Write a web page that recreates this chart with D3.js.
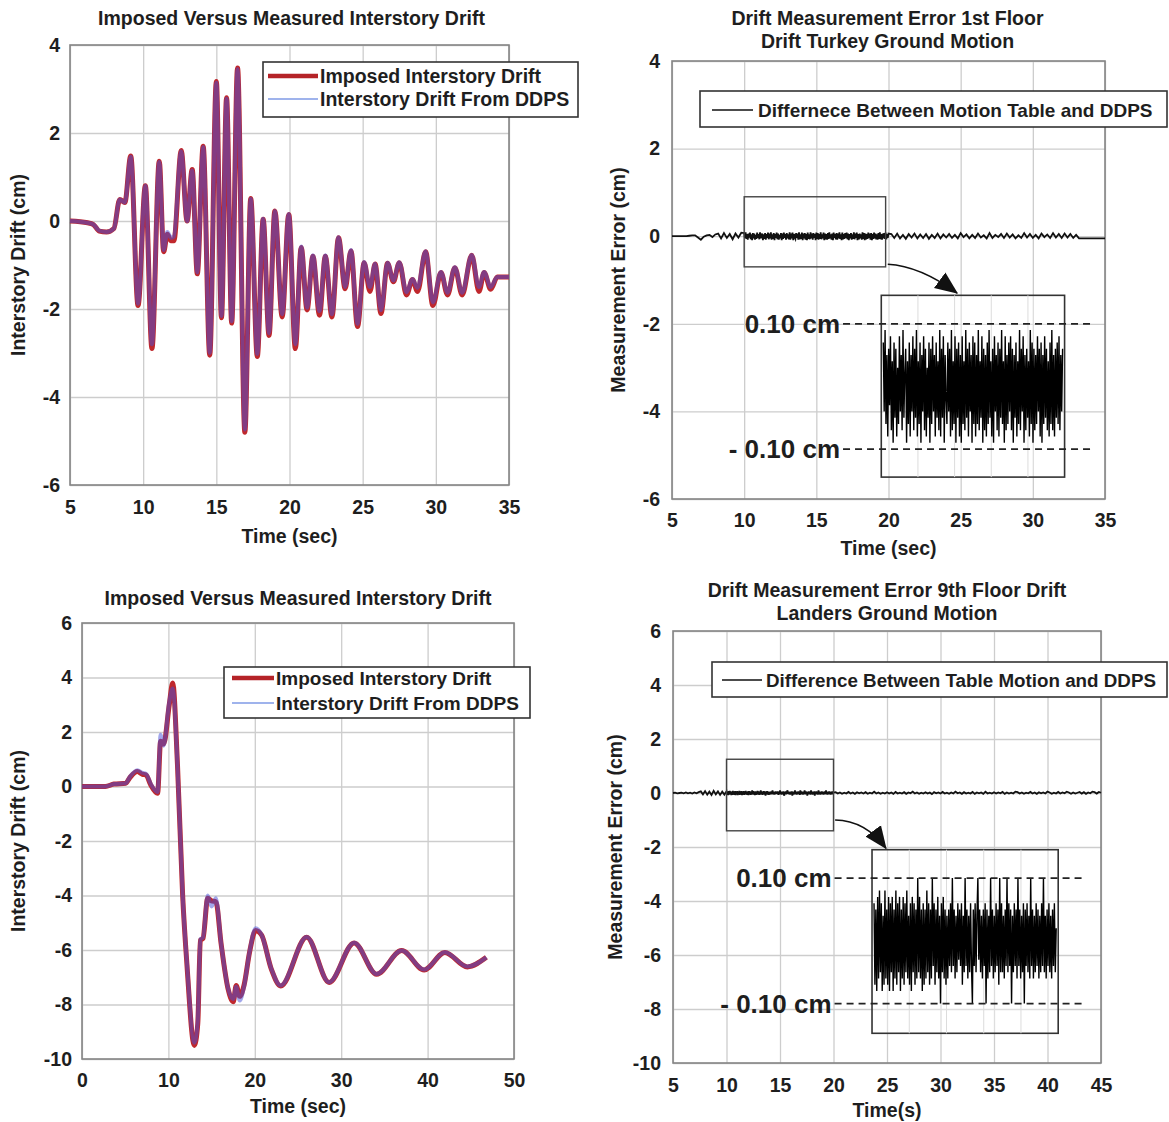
<!DOCTYPE html>
<html>
<head>
<meta charset="utf-8">
<script src="https://cdn.jsdelivr.net/npm/d3@7"></script>
<style>
  body { margin: 0; background: #fff; }
  svg text { font-family: "Liberation Sans", Arial, sans-serif; font-weight: bold; fill: #1e1e1e; }
</style>
</head>
<body>
<script>
// ---------- Turkey record: imposed vs. DDPS interstory drift (cm) ----------
const turkeyTime = [5, 6.2, 6.6, 7.0, 7.5, 8.0, 8.4, 8.75, 9.15, 9.65, 10.15, 10.6, 11.1, 11.4, 11.65, 11.9, 12.1,
  12.6, 13.0, 13.35, 13.7, 14.1, 14.55, 15.0, 15.35, 15.7, 16.05, 16.45, 16.95, 17.35, 17.8, 18.2, 18.6, 19.0, 19.5,
  19.95, 20.4, 20.8, 21.2, 21.6, 22.05, 22.45, 22.9, 23.35, 23.8, 24.2, 24.65, 25.1, 25.5, 25.85, 26.25, 26.7, 27.1,
  27.5, 28.0, 28.4, 28.75, 29.3, 29.8, 30.35, 30.8, 31.3, 31.8, 32.45, 32.95, 33.3, 33.75, 34.2, 35];
const turkeyImposed = [0, -0.04, -0.08, -0.23, -0.25, -0.17, 0.49, 0.42, 1.48, -1.92, 0.8, -2.9, 1.36, -0.7, -0.3,
  -0.45, -0.45, 1.6, 0.0, 1.17, -1.2, 1.7, -3.05, 3.17, -2.2, 2.8, -2.32, 3.48, -4.8, 0.51, -3.08, 0.04, -2.6, 0.23,
  -2.18, 0.15, -2.9, -0.6, -2.02, -0.8, -2.14, -0.8, -2.18, -0.38, -1.54, -0.68, -2.4, -0.95, -1.6, -0.98, -2.1, -0.96,
  -1.38, -0.95, -1.68, -1.33, -1.6, -0.7, -1.92, -1.17, -1.68, -1.06, -1.68, -0.78, -1.6, -1.17, -1.55, -1.27, -1.27];
const turkeyDDPS = [0, -0.04, -0.08, -0.22, -0.25, -0.17, 0.49, 0.42, 1.46, -1.88, 0.8, -2.8, 1.34, -0.66, -0.25,
  -0.38, -0.35, 1.58, 0.0, 1.15, -1.17, 1.68, -3.0, 3.14, -2.16, 2.78, -2.28, 3.45, -4.74, 0.5, -3.02, 0.05, -2.55, 0.23,
  -2.12, 0.16, -2.8, -0.58, -1.97, -0.78, -2.05, -0.78, -2.12, -0.37, -1.5, -0.66, -2.34, -0.93, -1.5, -0.97, -2.03, -0.95,
  -1.35, -0.94, -1.62, -1.32, -1.52, -0.69, -1.85, -1.16, -1.63, -1.05, -1.63, -0.77, -1.5, -1.16, -1.5, -1.27, -1.27];

// ---------- Landers record: imposed vs. DDPS interstory drift (cm) ----------
const landersTime = [0, 2.7, 3.7, 5.05, 5.55, 6.4, 7.0, 7.4, 7.95, 8.75, 9.1, 9.45, 10.1, 10.5, 11.05, 11.65, 12.15,
  13.0, 13.4, 13.7, 14.0, 14.55, 15.0, 15.5, 16.1, 16.9, 17.5, 17.85, 18.25, 18.75, 19.4, 20.1, 20.8, 21.9, 23.0,
  26.0, 28.6, 31.5, 34.1, 37.0, 39.6, 42.0, 44.6, 46.8];
const landersImposed = [0, 0, 0.09, 0.12, 0.33, 0.55, 0.45, 0.43, 0.06, -0.25, 1.66, 1.56, 3.0, 3.8, 0.8, -4.0, -6.56,
  -9.5, -8.7, -5.64, -5.58, -4.1, -4.2, -4.23, -5.77, -7.42, -7.9, -7.3, -7.7, -7.3, -6.07, -5.28, -5.46, -6.69, -7.32,
  -5.53, -7.19, -5.74, -6.89, -6.02, -6.73, -6.09, -6.62, -6.27];
const landersDDPS = [0, 0, 0.09, 0.12, 0.36, 0.6, 0.5, 0.47, 0.1, -0.2, 1.9, 1.5, 3.1, 3.6, 0.8, -4.0, -6.5,
  -9.4, -8.6, -5.6, -5.55, -4.0, -4.4, -4.1, -5.75, -7.4, -7.8, -7.35, -7.85, -7.35, -6.05, -5.2, -5.45, -6.68, -7.3,
  -5.52, -7.18, -5.73, -6.88, -6.02, -6.72, -6.08, -6.61, -6.27];

// ---------- Measurement error, table minus DDPS (cm), uniformly sampled ----------
const turkeyErrStart = 5, turkeyErrStep = 0.2;
const turkeyErr = [0, 0, 0, 0, 0, 0, .01, .02, .02, -.03, -.08, -.01, .02, .03, -.02, .04,
  .06, -.05, .07, -.04, .05, -.07, .06, -.03, .08, -.06, .04, -.07, .06, -.05, .07, -.04, .05, -.06, .08, -.05,
  .06, -.07, .04, -.05, .07, -.06, .05, -.08, .06, -.04, .07, -.06, .05, -.07, .04, -.05, .06, -.07, .05, -.04,
  .07, -.06, .05, -.05, .06, -.07, .04, -.06, .07, -.05, .06, -.04, .05, -.07, .06, -.05, .04, -.06, .07, -.05,
  .05, -.04, .06, -.05, .03, -.06, .05, -.03, .06, -.05, .04, -.04, .05, -.06, .03, -.04, .06, -.05, .04, -.03,
  .05, -.04, .03, -.05, .07, -.02, .04, -.05, .03, -.04, .06, -.03, .02, -.05, .07, -.04, .03, -.02, .05, -.04,
  .06, -.03, .04, -.05, .02, -.04, .07, -.03, .05, -.04, .03, -.05, .06, -.02, .04, -.04, .07, -.03, .05, -.04,
  .06, -.03, .05, -.04,
  .03, -.05, -.05, -.05, -.05, -.05, -.05, -.05, -.05, -.05, -.05];

const landersErrStart = 5, landersErrStep = 0.2;
const landersErr = [0, .01, -.01, 0, .01, -.01, .02, -.01, .01, -.02, .02, -.01, .03,
  .06, -.05, .07, -.06, .05, -.07, .08, -.05, .06, -.07, .05, -.06, .07, -.08, .06, -.05, .07, -.06, .05, -.07,
  .06, -.08, .07, -.05, .06, -.06, .08, -.07, .05, -.06, .07, -.05, .06, -.08, .05, -.06, .07, -.07, .06, -.05,
  .05, -.06, .07, -.05, .04, -.06, .06, -.04, .05, -.06, .04, -.05, .06, -.04, .05, -.05, .04, -.06, .05, -.04,
  .05, -.04, .03,
  .03, -.02, .02, -.03, .01, -.02, .04, -.02, .02, -.03, .03, -.01, .02, -.02, .03, -.03, .01, -.02, .05, -.02, .02, -.03, .01, -.02, .03,
  -.02, .02, -.03, .04, -.02, .01, -.02, .03, -.03, .02, -.01, .05, -.02, .02, -.03, .01, -.02, .03, -.02, .02, -.04, .03, -.01, .02, -.02,
  .04, -.02, .01, -.03, .02, -.02, .05, -.01, .02, -.03, .03, -.02, .01, -.02, .04, -.03, .02, -.01, .02, -.03, .05, -.02, .01, -.02, .03,
  -.02, .02, -.01, .04, -.03, .02, -.02, .01, -.02, .05, .03, -.02, .02, -.03, .01, -.01, .04, -.02, .02, -.03, .03, -.01, .02, -.02, .05,
  .02, -.03, .01, -.02, .04, -.02, .02, -.01, .05, .02, -.03, .02, -.02, .01, .04, -.02, .03, -.03, .02, -.01, .05, .03, -.02, .04, .01];

// Zoomed windows (10 s to 20 s) of the same error records at full sampling rate
const zoomStart = 10, zoomStep = 0.05;
const turkeyErrZoom = [
  .07, -.04, .09, -.06, .05, -.08, .06, -.03, .08, -.07, .04, -.09, .07, -.05, .06, -.08, .03, -.06, .08, -.04,
  .05, -.07, .09, -.05, .02, .06, -.09, .04, -.06, .07, -.08, .05, -.04, .08, -.07, .06, -.05, .09, -.08, .04,
  -.06, .07, -.09, .05, -.04, .08, -.07, .06, -.08, .03, -.05, .07, -.09, .06, -.06, .08, -.04, .05, -.08, .07,
  -.05, .04, -.07, .09, -.08, .06, -.05, .08, -.09, .05, -.02, -.06, .07, -.04, .06, -.08, .09, -.07, .04, -.06,
  .08, -.09, .06, -.05, .07, -.08, .05, -.09, .08, -.06, .04, -.07, .09, -.05, .06, -.08, .07, -.04, .05, -.09,
  .08, -.06, .07, -.08, .05, -.06, .09, -.07, .04, -.05, .08, -.09, .06, -.07, .05, -.08, .07, -.06, .09, -.05,
  .04, -.08, .06, -.09, .08, -.04, .05, -.07, .07, -.08, .06, -.05, .09, -.06, .04, -.09, .08, -.07, .05, -.06,
  .07, -.04, .08, -.07, .06, -.09, .05, -.05, .07, -.08, .04, -.06, .09, -.07, .06, -.04, .08, -.09, .05, -.07,
  .06, -.05, .04, -.08, .09, -.06, .07, -.09, .06, -.07, .05, -.06, .08, -.04, .06, -.08, .07, -.09, .05, -.06,
  .08, -.05, .06, -.07, .04, -.08, .07, -.06, .09, -.07, .05, -.08, .06, -.05, .07, -.06, .08, -.07, .05, -.04,
  .06];
const landersErrZoom = [
  .06, -.07, .05, -.08, .07, -.06, .08, -.05, .06, -.08, .04, -.07, .08, -.06, .05, -.07, .07, -.08, .06, -.05,
  .07, -.08, .05, -.06, .08, -.07, .06, -.05, .07, -.08, .05, -.06, .07, -.07, .06, -.05, .08, -.06, .04, -.07,
  .06, -.08, .07, -.05, .06, -.07, .05, -.06, .1, -.05, .07, -.06, .05, -.08, .06, -.07, .05, -.06, .08, -.05,
  .06, -.07, .05, -.06, .1, -.04, .06, -.07, .05, -.05, .07, -.06, .04, -.1, .06, -.05, .07, -.06, .05, -.07,
  .04, -.06, .05, -.04, .06, -.05, .1, -.04, .05, -.06, .04, -.05, .06, -.03, .05, -.04, .06, -.07, .04, -.05,
  .1, -.04, .05, -.06, .04, -.05, .06, -.04, -.1, .05, -.04, .06, -.05, .04, .1, -.03, .05, -.05, .04, -.06,
  .05, -.04, .06, -.1, .05, -.06, .04, -.05, .1, -.04, .05, -.06, .04, -.05, .06, -.04, .05, -.07, .1, -.05,
  .06, -.05, .04, -.06, .05, -.04, .1, -.05, .06, -.04, .05, -.1, .04, -.05, .06, -.04, .05, -.06, .1, -.04,
  .05, -.06, .04, -.05, .06, -.1, .05, -.04, .06, -.05, .04, -.06, .1, -.04, .05, -.06, .04, -.05, .06, -.04,
  .05, -.06, .04, -.05, .06, -.04, .1, -.05, .04, -.06, .05, -.04, .06, -.05, .04, -.06, .05, -.04, .06, -.05,
  .02];

// ---------- tick values ----------
const ticks5to35 = [5, 10, 15, 20, 25, 30, 35];
const ticks5to45 = [5, 10, 15, 20, 25, 30, 35, 40, 45];
const ticks0to50 = [0, 10, 20, 30, 40, 50];
const ticksNeg6to4 = [-6, -4, -2, 0, 2, 4];
const ticksNeg10to6 = [-10, -8, -6, -4, -2, 0, 2, 4, 6];

// ---------- drawing ----------
const W = 1169, H = 1122;
const FONT = 19.5;
const svg = d3.select("body").append("svg").attr("width", W).attr("height", H);

function styleText(sel, size) {
  sel.attr("font-size", size).attr("font-weight", "bold")
     .attr("font-family", '"Liberation Sans", Arial, sans-serif').attr("fill", "#1e1e1e");
}

function makePanel(o) {
  const g = svg.append("g");
  const x = d3.scaleLinear().domain(o.xDomain).range([o.left, o.right]);
  const y = d3.scaleLinear().domain(o.yDomain).range([o.bottom, o.top]);
  const w = o.right - o.left, h = o.bottom - o.top;

  const xa = g.append("g").attr("transform", `translate(0,${o.bottom})`)
    .call(d3.axisBottom(x).tickValues(o.xTicks).tickSize(-h).tickPadding(o.xPad).tickFormat(d => String(d)));
  const ya = g.append("g").attr("transform", `translate(${o.left},0)`)
    .call(d3.axisLeft(y).tickValues(o.yTicks).tickSize(-w).tickPadding(o.yPad).tickFormat(d => String(d)));
  [xa, ya].forEach(a => {
    a.select(".domain").remove();
    a.selectAll(".tick line").attr("stroke", "#cdcdcd").attr("stroke-width", 1.3);
    styleText(a.selectAll(".tick text"), FONT);
  });

  g.append("rect").attr("x", o.left).attr("y", o.top).attr("width", w).attr("height", h)
    .attr("fill", "none").attr("stroke", "#858585").attr("stroke-width", 1.6);

  // titles
  const tcx = (o.left + o.right) / 2;
  o.title.forEach((t, i) => {
    styleText(g.append("text").attr("x", tcx + (o.titleDx || 0)).attr("y", o.titleY + i * 23)
      .attr("text-anchor", "middle").attr("dy", "0.35em").text(t), FONT);
  });
  styleText(g.append("text").attr("x", tcx).attr("y", o.bottom + o.xTitleDy)
    .attr("text-anchor", "middle").attr("dy", "0.35em").text(o.xTitle), FONT);
  styleText(g.append("text")
    .attr("transform", `translate(${o.yTitleX},${(o.top + o.bottom) / 2}) rotate(-90)`)
    .attr("text-anchor", "middle").attr("dy", "0.35em").text(o.yTitle), FONT);

  return { g, x, y };
}

function drawLegend(g, o) {
  g.append("rect").attr("x", o.x0).attr("y", o.y0).attr("width", o.x1 - o.x0).attr("height", o.y1 - o.y0)
    .attr("fill", "#fff").attr("stroke", "#333").attr("stroke-width", 1.6);
  o.items.forEach(it => {
    g.append("line").attr("x1", it.lx0).attr("x2", it.lx1).attr("y1", it.y).attr("y2", it.y)
      .attr("stroke", it.stroke).attr("stroke-width", it.width);
    const t = g.append("text").attr("x", it.tx).attr("y", it.y).attr("dy", "0.35em").text(it.label);
    styleText(t, o.fontSize || FONT);
    t.attr("fill", it.color);
  });
}

// drift comparison (imposed drawn first, DDPS on top)
function drawDrift(p, time, imposed, ddps) {
  const line = d3.line().x(d => p.x(d[0])).y(d => p.y(d[1])).curve(d3.curveMonotoneX);
  p.g.append("path").datum(d3.zip(time, imposed)).attr("d", line)
    .attr("fill", "none").attr("stroke", "#c0282d").attr("stroke-width", 5).attr("stroke-linejoin", "round");
  p.g.append("path").datum(d3.zip(time, ddps)).attr("d", line)
    .attr("fill", "none").attr("stroke", "#4650d8").attr("stroke-opacity", 0.5).attr("stroke-width", 4)
    .attr("stroke-linejoin", "round");
}

function sampled(start, step, values) {
  return values.map((v, i) => [start + i * step, v]);
}

// full record: coarse samples outside the zoom window, full-rate samples inside it
function errorRecord(o) {
  const fine = sampled(o.zoomStart, o.zoomStep, o.zoom);
  const z0 = fine[0][0], z1 = fine[fine.length - 1][0];
  const coarse = sampled(o.start, o.step, o.values).filter(d => d[0] < z0 - 1e-6 || d[0] > z1 + 1e-6);
  return coarse.concat(fine).sort((a, b) => a[0] - b[0]);
}

// error trace plus the zoomed inset, selection frame, arrow and ±0.10 cm levels
function drawError(p, o) {
  const g = p.g;
  const line = d3.line().x(d => p.x(d[0])).y(d => p.y(d[1]));
  g.append("path").datum(errorRecord(o)).attr("d", line)
    .attr("fill", "none").attr("stroke", "#111").attr("stroke-width", 1.8);

  // selection frame
  g.append("rect").attr("x", p.x(o.sel[0])).attr("y", p.y(o.sel[2]))
    .attr("width", p.x(o.sel[1]) - p.x(o.sel[0])).attr("height", p.y(o.sel[3]) - p.y(o.sel[2]))
    .attr("fill", "none").attr("stroke", "#444").attr("stroke-width", 1.4);

  // arrow
  const a = o.arrow;
  const sx = p.x(a[0]), sy = p.y(a[1]), cx = p.x(a[2]), cy = p.y(a[3]), ex = p.x(a[4]), ey = p.y(a[5]);
  g.append("path").attr("d", `M${sx},${sy} Q${cx},${cy} ${ex},${ey}`)
    .attr("fill", "none").attr("stroke", "#111").attr("stroke-width", 1.6).attr("marker-end", "url(#arrowHead)");

  // inset frame and its grid
  const bx0 = p.x(o.box[0]), bx1 = p.x(o.box[1]), by0 = p.y(o.box[2]), by1 = p.y(o.box[3]);
  g.append("rect").attr("x", bx0).attr("y", by0).attr("width", bx1 - bx0).attr("height", by1 - by0)
    .attr("fill", "#fff").attr("fill-opacity", 0.35).attr("stroke", "#333").attr("stroke-width", 1.6);
  const ix = d3.scaleLinear().domain([o.zoomStart, o.zoomStart + o.zoomStep * (o.zoom.length - 1)])
    .range([bx0 + 2, bx1 - 2]);
  const iy = d3.scaleLinear().domain([-0.1, 0.1]).range([p.y(o.levels[1]), p.y(o.levels[0])]);
  g.append("g").selectAll("line").data(d3.range(1, 5)).join("line")
    .attr("x1", k => bx0 + (bx1 - bx0) * k / 5).attr("x2", k => bx0 + (bx1 - bx0) * k / 5)
    .attr("y1", by0).attr("y2", by1).attr("stroke", "#dcdcdc").attr("stroke-width", 1);

  const iline = d3.line().x(d => ix(d[0])).y(d => iy(d[1]));
  g.append("path").datum(sampled(o.zoomStart, o.zoomStep, o.zoom)).attr("d", iline)
    .attr("fill", "none").attr("stroke", "#000").attr("stroke-width", 1.4);

  // ±0.10 cm levels
  [0.1, -0.1].forEach((v, i) => {
    g.append("line").attr("x1", p.x(o.dash[0])).attr("x2", p.x(o.dash[1]))
      .attr("y1", iy(v)).attr("y2", iy(v))
      .attr("stroke", "#222").attr("stroke-width", 1.8).attr("stroke-dasharray", "7,5");
    styleText(g.append("text").attr("x", p.x(o.dash[0]) - 3).attr("y", iy(v)).attr("dy", "0.35em")
      .attr("text-anchor", "end").text(o.levelLabels[i]), 26);
  });
}

svg.append("defs").append("marker").attr("id", "arrowHead")
  .attr("markerUnits", "userSpaceOnUse").attr("markerWidth", 24).attr("markerHeight", 24)
  .attr("viewBox", "0 -10 20 20").attr("refX", 18).attr("refY", 0).attr("orient", "auto")
  .append("path").attr("d", "M0,-8L19,0L0,8Z").attr("fill", "#111");

// top-left
const p1 = makePanel({
  left: 70, right: 509, top: 45, bottom: 485, xDomain: [5, 35], yDomain: [-6, 4],
  xTicks: ticks5to35, yTicks: ticksNeg6to4, xPad: 15, yPad: 10,
  title: ["Imposed Versus Measured Interstory Drift"], titleY: 18, titleDx: 2,
  xTitle: "Time (sec)", xTitleDy: 51, yTitle: "Interstory Drift (cm)", yTitleX: 18
});
drawDrift(p1, turkeyTime, turkeyImposed, turkeyDDPS);
drawLegend(p1.g, {
  x0: 263, x1: 578, y0: 62, y1: 117,
  items: [
    { lx0: 268, lx1: 318, y: 76, stroke: "#b52328", width: 4.5, tx: 320, label: "Imposed Interstory Drift", color: "#c5312f" },
    { lx0: 268, lx1: 318, y: 99, stroke: "#9fb3ec", width: 2.2, tx: 320, label: "Interstory Drift From DDPS", color: "#4d7bdb" }
  ]
});

// top-right
const p2 = makePanel({
  left: 672, right: 1105, top: 61, bottom: 499, xDomain: [5, 35], yDomain: [-6, 4],
  xTicks: ticks5to35, yTicks: ticksNeg6to4, xPad: 14, yPad: 12,
  title: ["Drift Measurement Error 1st Floor", "Drift Turkey Ground Motion"], titleY: 18, titleDx: -1,
  xTitle: "Time (sec)", xTitleDy: 49, yTitle: "Measurement Error (cm)", yTitleX: 618
});
drawLegend(p2.g, {
  x0: 700, x1: 1167, y0: 91, y1: 127, fontSize: 19,
  items: [{ lx0: 712, lx1: 753, y: 110, stroke: "#111", width: 1.3, tx: 758,
    label: "Differnece Between Motion Table and DDPS", color: "#1e1e1e" }]
});
drawError(p2, {
  start: turkeyErrStart, step: turkeyErrStep, values: turkeyErr,
  zoomStart: zoomStart, zoomStep: zoomStep, zoom: turkeyErrZoom,
  sel: [10, 19.8, 0.9, -0.7], box: [19.5, 32.2, -1.35, -5.5],
  arrow: [19.95, -0.64, 22.2, -0.68, 24.75, -1.3],
  levels: [-2.0, -4.86], dash: [16.85, 34.2], levelLabels: ["0.10 cm", "- 0.10 cm"]
});

// bottom-left
const p3 = makePanel({
  left: 82, right: 514, top: 623, bottom: 1059, xDomain: [0, 50], yDomain: [-10, 6],
  xTicks: ticks0to50, yTicks: ticksNeg10to6, xPad: 14, yPad: 10,
  title: ["Imposed Versus Measured Interstory Drift"], titleY: 598,
  xTitle: "Time (sec)", xTitleDy: 47, yTitle: "Interstory Drift (cm)", yTitleX: 18
});
drawDrift(p3, landersTime, landersImposed, landersDDPS);
drawLegend(p3.g, {
  x0: 224, x1: 530, y0: 667, y1: 718, fontSize: 19,
  items: [
    { lx0: 232, lx1: 274, y: 678, stroke: "#b52328", width: 4.5, tx: 276, label: "Imposed Interstory Drift", color: "#c5312f" },
    { lx0: 232, lx1: 274, y: 703, stroke: "#9fb3ec", width: 2.2, tx: 276, label: "Interstory Drift From DDPS", color: "#4d7bdb" }
  ]
});

// bottom-right
const p4 = makePanel({
  left: 673, right: 1101, top: 631, bottom: 1063, xDomain: [5, 45], yDomain: [-10, 6],
  xTicks: ticks5to45, yTicks: ticksNeg10to6, xPad: 15, yPad: 12,
  title: ["Drift Measurement Error 9th Floor Drift", "Landers Ground Motion"], titleY: 590,
  xTitle: "Time(s)", xTitleDy: 47, yTitle: "Measurement Error (cm)", yTitleX: 615
});
drawLegend(p4.g, {
  x0: 712, x1: 1167, y0: 662, y1: 697, fontSize: 18.8,
  items: [{ lx0: 722, lx1: 762, y: 680, stroke: "#111", width: 1.3, tx: 766,
    label: "Difference Between Table Motion and DDPS", color: "#1e1e1e" }]
});
drawError(p4, {
  start: landersErrStart, step: landersErrStep, values: landersErr,
  zoomStart: zoomStart, zoomStep: zoomStep, zoom: landersErrZoom,
  sel: [10, 20, 1.25, -1.4], box: [23.6, 41.0, -2.1, -8.9],
  arrow: [20.15, -1.0, 23.0, -1.02, 24.9, -2.05],
  levels: [-3.15, -7.8], dash: [20.1, 43.5], levelLabels: ["0.10 cm", "- 0.10 cm"]
});
</script>
</body>
</html>
